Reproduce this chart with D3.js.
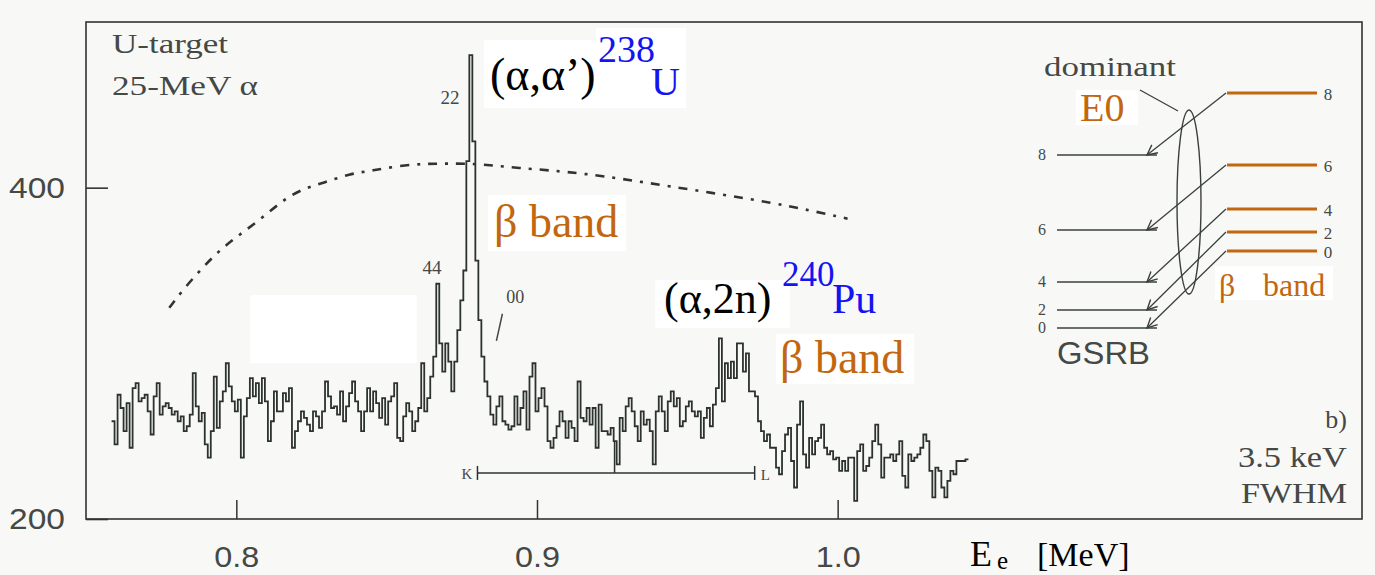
<!DOCTYPE html>
<html><head><meta charset="utf-8">
<script src="https://cdn.jsdelivr.net/npm/d3@7"></script>
<style>
html,body{margin:0;padding:0;background:#f8f9f7;}
svg{display:block;}
</style></head><body>
<svg id="chart" width="1375" height="575"></svg>
<script>
// ---------------- data ----------------
const binStart = 0.7585;   // MeV, left edge of first channel
const binWidth = 0.001;    // MeV per channel
const counts = [
259,245,275,267,253,270,243,279,282,271,
273,275,265,251,274,282,263,268,270,267,
263,265,259,262,253,256,263,288,268,259,
264,245,237,253,286,255,271,277,294,280,
271,265,272,237,262,273,285,274,282,270,
285,271,247,259,277,265,
265,276,271,279,243,253,259,265,261,257,
253,265,262,255,265,283,274,267,268,263,
277,259,268,276,283,271,265,253,265,279,
265,277,270,261,273,257,271,274,282,249,
247,262,270,265,253,259,267,294,265,273,
286,298,342,306,289,306,295,277,295,314,
332,350,416,480,428,356,320,298,283,274,
263,257,
268,274,259,257,254,256,274,257,267,277,
254,286,294,265,273,279,268,247,243,249,
256,265,259,249,259,255,247,283,261,259,
267,257,267,243,269,253,253,251,255,247,
233,261,253,268,273,265,256,247,265,257,
260,253,233,265,274,
265,253,271,277,268,273,256,259,268,271,
265,262,265,249,261,267,256,269,279,309,
271,294,285,295,285,306,306,289,300,277,
277,274,259,253,247,251,243,243,231,227,
241,251,255,235,219,257,271,239,231,249,
239,247,249,257,243,239,
241,236,237,229,235,229,237,237,211,241,
245,229,232,237,247,257,245,225,237,237,
239,235,239,247,226,219,239,235,237,239,
243,251,247,229,213,231,229,219,213,223,
229,227,235,235,235,236
];
// dash-dotted envelope curve
const curveEnergy = [0.7777,0.7820,0.7887,0.7953,0.8020,0.8087,0.8153,0.8220,0.8293,0.8376,0.8453,0.8542,0.8632,0.8709,0.8799,0.8925,0.9155,0.9434,0.9790,1.0033];
const curveCounts = [327.5,337.8,351.7,363.7,372.8,381.9,392.1,399.4,403.0,408.4,410.3,413.3,414.5,414.5,414.5,412.0,409.0,401.0,391.0,381.3];
const xTicks = [0.8, 0.9, 1.0];
const yTicks = [200, 400];
// K-L conversion line markers (energy)
const klLabels = ["K", "L"];
const klEnergy = [0.8802, 0.9724];
const klMidEnergy = 0.9258;
const klCount = 227.8;
// level scheme (schematic heights)
const spins = [0, 2, 4, 6, 8];
const gsrbHeight = [0, 18, 46, 98, 173];
const betaHeight = [77, 96, 119, 163, 235];

// ---------------- drawing ----------------
const svg = d3.select("#chart");
const x = d3.scaleLinear().domain([0.75, 1.1744]).range([86, 1362]);
const y = d3.scaleLinear().domain([200, 500]).range([519, 22]);
const grey = "#454845", ink = "#2c332f", orange = "#c2670f", blue = "#1414f0";
const serif = "'Liberation Serif','Times New Roman',serif";
const sans = "'Liberation Sans',Arial,sans-serif";

svg.append("rect").attr("width",1375).attr("height",575).attr("fill","#f8f9f7");
// white patches of the pasted labels
const patches = [[250,295,167,68],[484,40,118,68],[596,28,90,80],[488,195,138,56],[655,280,135,48],[776,334,138,50],[1076,90,62,35],[1215,266,118,34]];
svg.selectAll("rect.patch").data(patches).join("rect").attr("class","patch")
  .attr("x",d=>d[0]).attr("y",d=>d[1]).attr("width",d=>d[2]).attr("height",d=>d[3]).attr("fill","#ffffff");

// frame
svg.append("rect").attr("x",86).attr("y",22).attr("width",1276).attr("height",497)
  .attr("fill","none").attr("stroke","#333").attr("stroke-width",1.6);

// axes
const yAxis = d3.axisLeft(y).tickValues(yTicks).tickSize(-22).tickPadding(21).tickFormat(d3.format("d"));
const gy = svg.append("g").attr("transform","translate(86,0)").call(yAxis);
gy.select(".domain").remove();
gy.selectAll("line").attr("stroke","#333").attr("stroke-width",1.6);
gy.selectAll("text").attr("font-family",sans).attr("font-size",30).attr("fill",grey)
  .attr("textLength",56).attr("lengthAdjust","spacingAndGlyphs");

const xAxis = d3.axisBottom(x).tickValues(xTicks).tickSize(-19).tickPadding(27).tickFormat(d3.format(".1f"));
const gx = svg.append("g").attr("transform","translate(0,519)").call(xAxis);
gx.select(".domain").remove();
gx.selectAll("line").attr("stroke","#333").attr("stroke-width",1.5);
gx.selectAll("text").attr("font-family",sans).attr("font-size",30).attr("fill",grey)
  .attr("textLength",45).attr("lengthAdjust","spacingAndGlyphs");

// spectrum (histogram steps)
const pts = counts.map((c,i)=>[binStart + i*binWidth, c]);
pts.push([binStart + counts.length*binWidth, counts[counts.length-1]]);
svg.append("path").datum(pts)
  .attr("d", d3.line().x(d=>x(d[0])).y(d=>y(d[1])).curve(d3.curveStepAfter))
  .attr("fill","none").attr("stroke",ink).attr("stroke-width",1.8).attr("stroke-linejoin","miter");

// envelope curve
svg.append("path").datum(curveEnergy.map((e,i)=>[e,curveCounts[i]]))
  .attr("d", d3.line().x(d=>x(d[0])).y(d=>y(d[1])).curve(d3.curveBasis))
  .attr("fill","none").attr("stroke","#333").attr("stroke-width",2.6)
  .attr("stroke-dasharray","9,8,3,8");

// K-L bar
svg.append("line").attr("x1",x(klEnergy[0])).attr("x2",x(klEnergy[1])).attr("y1",y(klCount)).attr("y2",y(klCount))
  .attr("stroke",ink).attr("stroke-width",1.5);
klEnergy.forEach(e=>svg.append("line").attr("x1",x(e)).attr("x2",x(e)).attr("y1",y(klCount)-7).attr("y2",y(klCount)+7).attr("stroke",ink).attr("stroke-width",1.5));
svg.append("line").attr("x1",x(klMidEnergy)).attr("x2",x(klMidEnergy)).attr("y1",y(klCount)).attr("y2",y(247)).attr("stroke",ink).attr("stroke-width",1.5);
svg.append("text").attr("x",x(klEnergy[0])-5).attr("y",y(klCount)+6).attr("text-anchor","end")
  .attr("font-family",serif).attr("font-size",15).attr("fill",grey).text(klLabels[0]);
svg.append("text").attr("x",x(klEnergy[1])+6).attr("y",y(klCount)+7)
  .attr("font-family",serif).attr("font-size",15).attr("fill",grey).text(klLabels[1]);

// peak labels
function t(xp, yp, str, size, color, fam, extra){
  const s = svg.append("text").attr("x",xp).attr("y",yp).attr("font-family",fam||serif)
    .attr("font-size",size).attr("fill",color).text(str);
  if (extra) extra(s);
  return s;
}
t(x(0.8742), y(450.7), "22", 19, grey, serif, s=>s.attr("text-anchor","end"));
t(x(0.8619), y(348), "44", 19, grey);
t(x(0.8898), y(330.5), "00", 18, grey);
svg.append("line").attr("x1",x(0.8865)).attr("y1",y(307.5)).attr("x2",x(0.8885)).attr("y2",y(323.9))
  .attr("stroke",grey).attr("stroke-width",1.5);

// scanned corner texts
t(112, 53, "U-target", 27, grey, serif, s=>s.attr("textLength",116).attr("lengthAdjust","spacingAndGlyphs"));
t(112, 95, "25-MeV α", 27, grey, serif, s=>s.attr("textLength",146).attr("lengthAdjust","spacingAndGlyphs"));
t(1347, 428, "b)", 26, grey, serif, s=>s.attr("text-anchor","end"));
t(1347, 467, "3.5 keV", 29, grey, serif, s=>s.attr("text-anchor","end").attr("textLength",109).attr("lengthAdjust","spacingAndGlyphs"));
t(1347, 503, "FWHM", 29, grey, serif, s=>s.attr("text-anchor","end").attr("textLength",106).attr("lengthAdjust","spacingAndGlyphs"));

// coloured reaction labels
t(490, 90, "(α,α’)", 46, "#000");
t(598, 62, "238", 38, blue);
t(651, 95, "U", 40, blue);
t(494, 237, "β band", 46, orange);
t(664, 313, "(α,2n)", 44, "#000");
t(782, 286, "240", 35, blue);
t(832, 313, "Pu", 42, blue);
t(780, 373, "β band", 46, orange);

// axis title
t(970, 566, "E", 36, "#000");
t(997, 569, "e", 25, "#000");
t(1037, 566, "[MeV]", 34, "#000");

// ---------------- level scheme inset ----------------
const ly = d3.scaleLinear().domain([0, 235]).range([328, 93]);
const defs = svg.append("defs");
defs.append("marker").attr("id","arr").attr("viewBox","0 0 12 12").attr("refX",11).attr("refY",6)
  .attr("markerWidth",12).attr("markerHeight",12).attr("markerUnits","userSpaceOnUse").attr("orient","auto")
  .append("path").attr("d","M1,1 L11,6 L1,11").attr("fill","none").attr("stroke","#3a403c").attr("stroke-width",1.4);

const lv = svg.append("g");
spins.forEach((s,i)=>{
  const yg = ly(gsrbHeight[i]), yb = ly(betaHeight[i]);
  lv.append("line").attr("x1",1057).attr("x2",1157).attr("y1",yg).attr("y2",yg).attr("stroke","#3a403c").attr("stroke-width",1.6);
  lv.append("text").attr("x",1042).attr("y",yg+5).attr("text-anchor","middle").attr("font-family",serif).attr("font-size",16).attr("fill",grey).text(s);
  lv.append("line").attr("x1",1227).attr("x2",1317).attr("y1",yb).attr("y2",yb).attr("stroke",orange).attr("stroke-width",3);
  lv.append("text").attr("x",1328).attr("y",yb+7).attr("text-anchor","middle").attr("font-family",serif).attr("font-size",17).attr("fill",grey).text(s);
  lv.append("line").attr("x1",1226).attr("y1",yb).attr("x2",1147).attr("y2",yg)
    .attr("stroke","#3a403c").attr("stroke-width",1.3).attr("marker-end","url(#arr)");
});
lv.append("ellipse").attr("cx",1189).attr("cy",202).attr("rx",12).attr("ry",92)
  .attr("fill","none").attr("stroke","#3a403c").attr("stroke-width",1.4);
lv.append("line").attr("x1",1140).attr("y1",90).attr("x2",1178).attr("y2",111).attr("stroke","#3a403c").attr("stroke-width",1.3);
t(1044, 76, "dominant", 28, grey, serif, s=>s.attr("textLength",132).attr("lengthAdjust","spacingAndGlyphs"));
t(1080, 121, "E0", 40, orange);
t(1057, 364, "GSRB", 31, grey, sans, s=>s.attr("textLength",93).attr("lengthAdjust","spacingAndGlyphs"));
t(1219, 296, "β", 32, orange);
t(1263, 296, "band", 32, orange);
</script>
</body></html>
